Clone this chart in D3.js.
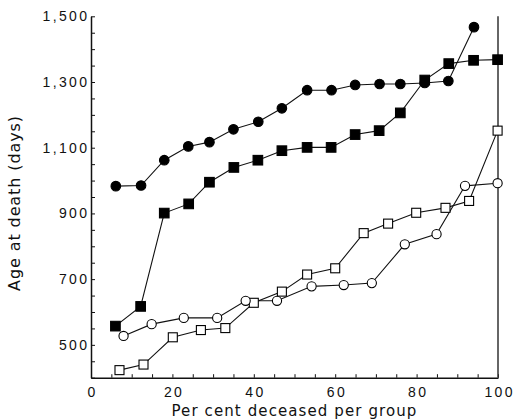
<!DOCTYPE html>
<meta charset="utf-8">
<style>
body { margin: 0; background: #fff; }
svg { font-family: "DejaVu Sans", sans-serif; }
.axis path, .axis line { fill: none; stroke: #111; }
.axis path { stroke-width: 1.5px; }
.axis text { font-size: 14px; letter-spacing: 2.4px; fill: #111; }
.title { font-size: 15px; letter-spacing: 1.1px; fill: #111; }
.ytitle { font-size: 16px; letter-spacing: 0.9px; fill: #111; }
.series { fill: none; stroke: #111; stroke-width: 1.1px; }
</style>
<body>
<script src="https://cdn.jsdelivr.net/npm/d3@7"></script>
<script>

// per cent deceased per group / age at death (days)
var filledCirclePct = [6.1, 12.3, 18.0, 23.9, 29.1, 35.0, 41.1, 46.9, 53.1, 59.1, 64.9, 70.9, 76.0, 82.0, 87.8, 94.1];
var filledCircleAge = [983, 985, 1062, 1104, 1117, 1156, 1179, 1220, 1275, 1275, 1291, 1294, 1294, 1297, 1303, 1467];

var filledSquarePct = [6.0, 12.2, 18.0, 24.0, 29.1, 35.1, 41.0, 46.9, 53.1, 59.0, 64.9, 70.8, 76.0, 82.0, 87.9, 94.0, 99.9];
var filledSquareAge = [557, 617, 901, 929, 995, 1040, 1062, 1091, 1101, 1101, 1140, 1152, 1206, 1306, 1356, 1366, 1368];

var openCirclePct = [8.0, 14.9, 22.8, 31.0, 38.0, 45.7, 54.2, 62.1, 69.0, 77.1, 84.9, 91.9, 99.9];
var openCircleAge = [527, 563, 582, 582, 634, 634, 678, 682, 688, 806, 837, 984, 992];

var openSquarePct = [7.0, 12.9, 20.1, 27.0, 33.0, 40.0, 46.9, 53.1, 60.0, 67.0, 73.0, 79.9, 87.1, 92.9, 99.9];
var openSquareAge = [423, 440, 523, 545, 551, 628, 662, 714, 733, 840, 869, 902, 917, 938, 1152];

var xTickLabels = [0, 20, 40, 60, 80, 100];
var yTickLabels = [500, 700, 900, 1100, 1300, 1500];

var W = 516, H = 420;
var margin = {top: 16.3, right: 18, bottom: 42.3, left: 91};
var width = W - margin.left - margin.right,
    height = H - margin.top - margin.bottom;

var svg = d3.select("body").append("svg")
    .attr("width", W)
    .attr("height", H)
  .append("g")
    .attr("transform", "translate(" + margin.left + "," + margin.top + ")");

var x = d3.scaleLinear().domain([0, 100]).range([0, width]);
var y = d3.scaleLinear().domain([400, 1500]).range([height, 0]);

// minor ticks every 5 on x, every 50 on y
svg.append("g")
    .attr("class", "x axis")
    .attr("transform", "translate(0," + height + ")")
    .call(d3.axisBottom(x)
      .tickValues(d3.range(0, 101, 5))
      .tickSize(-3.5)
      .tickSizeOuter(0)
      .tickPadding(9)
      .tickFormat(function(d) { return xTickLabels.indexOf(d) > -1 ? d : ""; }))
    .selectAll("text")
      .attr("dx", "1.2px");

svg.append("g")
    .attr("class", "y axis")
    .call(d3.axisLeft(y)
      .tickValues(d3.range(400, 1501, 50))
      .tickSize(-4)
      .tickSizeOuter(0)
      .tickPadding(1.5)
      .tickFormat(function(d) { return yTickLabels.indexOf(d) > -1 ? d3.format(",")(d) : ""; }));

// right border line at 100 %
svg.append("line")
    .attr("x1", x(100)).attr("x2", x(100))
    .attr("y1", y(1500)).attr("y2", y(400))
    .attr("stroke", "#333")
    .attr("stroke-width", 1.5);

var line = d3.line()
    .x(function(d) { return x(d[0]); })
    .y(function(d) { return y(d[1]); });

function pairs(p, a) { return p.map(function(v, i) { return [v, a[i]]; }); }

var series = [
  {pts: pairs(openSquarePct, openSquareAge), shape: "square", fill: "#fff"},
  {pts: pairs(openCirclePct, openCircleAge), shape: "circle", fill: "#fff"},
  {pts: pairs(filledSquarePct, filledSquareAge), shape: "square", fill: "#000"},
  {pts: pairs(filledCirclePct, filledCircleAge), shape: "circle", fill: "#000"}
];

series.forEach(function(s) {
  svg.append("path")
      .attr("class", "series")
      .attr("d", line(s.pts));
});

series.forEach(function(s) {
  var g = svg.append("g");
  if (s.shape === "circle") {
    g.selectAll("circle")
        .data(s.pts)
      .enter().append("circle")
        .attr("cx", function(d) { return x(d[0]); })
        .attr("cy", function(d) { return y(d[1]); })
        .attr("r", s.fill === "#000" ? 4.8 : 4.6)
        .attr("fill", s.fill)
        .attr("stroke", "#000")
        .attr("stroke-width", 1.1);
  } else {
    var sz = s.fill === "#000" ? 9.6 : 9;
    g.selectAll("rect")
        .data(s.pts)
      .enter().append("rect")
        .attr("x", function(d) { return x(d[0]) - sz / 2; })
        .attr("y", function(d) { return y(d[1]) - sz / 2; })
        .attr("width", sz)
        .attr("height", sz)
        .attr("fill", s.fill)
        .attr("stroke", "#000")
        .attr("stroke-width", 1.1);
  }
});

svg.append("text")
    .attr("class", "title")
    .attr("x", (x(0) + x(100)) / 2)
    .attr("y", height + 38.8)
    .attr("text-anchor", "middle")
    .text("Per cent deceased per group");

svg.append("text")
    .attr("class", "ytitle")
    .attr("transform", "translate(" + (-margin.left + 20) + "," + (y(950) + 6) + ") rotate(-90)")
    .attr("text-anchor", "middle")
    .text("Age at death (days)");

</script>
</body>
